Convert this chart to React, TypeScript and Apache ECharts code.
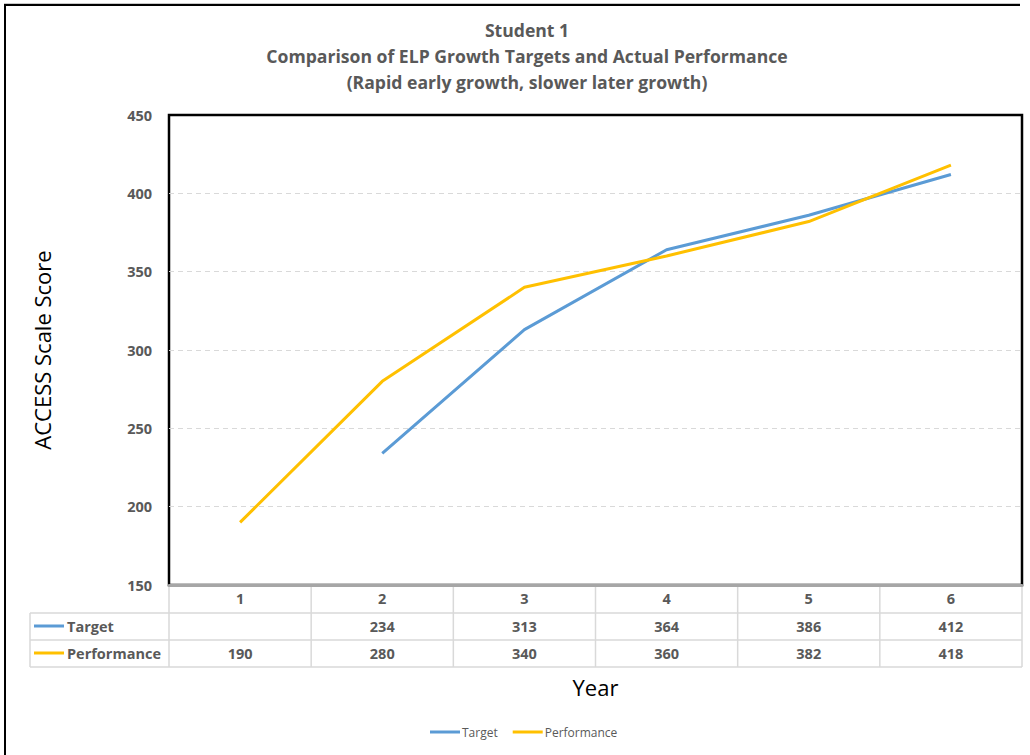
import React, { useEffect, useRef } from "react";
import * as echarts from "echarts";

const years = ["1", "2", "3", "4", "5", "6"];
const target: (number | null)[] = [null, 234, 313, 364, 386, 412];
const performance: number[] = [190, 280, 340, 360, 382, 418];
const seriesNames = ["Target", "Performance"];
const seriesColors = ["#5B9BD5", "#FFC000"];
const titleLines = [
  "Student 1",
  "Comparison of ELP Growth Targets and Actual Performance",
  "(Rapid early growth, slower later growth)",
];
const yMin = 150;
const yMax = 450;
const yStep = 50;

const FONT = "'Open Sans', 'Noto Sans', sans-serif";
const GRAY = "#595959";
const TXT = 14.5;

export default function App() {
  const ref = useRef<HTMLDivElement>(null);
  useEffect(() => {
    if (!ref.current) return;
    const chart = echarts.init(ref.current, null, { renderer: "svg" });
    const option: any = {
      animation: false,
      backgroundColor: "#fff",
      textStyle: { fontFamily: FONT },
      title: {
        text: titleLines.join("\n"),
        top: 12,
        left: 522,
        textAlign: "center",
        textStyle: {
          fontFamily: FONT,
          fontSize: 17.6,
          fontWeight: "bold",
          color: GRAY,
          lineHeight: 26,
        },
      },
      legend: {
        bottom: 12,
        left: 425,
        icon: "rect",
        itemWidth: 30,
        itemHeight: 3,
        itemGap: 15,
        textStyle: { fontFamily: FONT, fontSize: 12, color: GRAY, padding: [0, 0, 0, -3] },
        data: seriesNames,
      },
      grid: {
        left: 169,
        top: 115,
        right: 8,
        bottom: 170,
        show: true,
        borderColor: "#000",
        borderWidth: 2.5,
        containLabel: false,
      },
      xAxis: {
        type: "category",
        data: years,
        boundaryGap: true,
        name: "Year",
        nameLocation: "middle",
        nameGap: 91,
        nameTextStyle: { fontFamily: FONT, fontSize: 22, color: "#000" },
        axisLine: { show: true, lineStyle: { color: "#a6a6a6", width: 3 } },
        axisTick: { show: false },
        axisLabel: {
          show: true,
          margin: 6,
          fontFamily: FONT,
          fontSize: TXT,
          fontWeight: "bold",
          color: GRAY,
        },
        splitLine: { show: false },
      },
      yAxis: {
        type: "value",
        min: yMin,
        max: yMax,
        interval: yStep,
        name: "ACCESS Scale Score",
        nameLocation: "middle",
        nameGap: 116,
        nameRotate: 90,
        nameTextStyle: { fontFamily: FONT, fontSize: 22, color: "#000" },
        axisLine: { show: false },
        axisTick: { show: false },
        axisLabel: {
          margin: 17,
          fontFamily: FONT,
          fontSize: TXT,
          fontWeight: "bold",
          color: GRAY,
        },
        splitLine: {
          show: true,
          showMinLine: false,
          showMaxLine: false,
          lineStyle: { color: "#d9d9d9", type: [5, 4], width: 1 },
        },
      },
      series: [
        {
          name: seriesNames[0],
          type: "line",
          data: target,
          symbol: "none",
          connectNulls: false,
          lineStyle: { color: seriesColors[0], width: 3 },
          itemStyle: { color: seriesColors[0] },
          z: 3,
        },
        {
          name: seriesNames[1],
          type: "line",
          data: performance,
          symbol: "none",
          lineStyle: { color: seriesColors[1], width: 3 },
          itemStyle: { color: seriesColors[1] },
          z: 4,
        },
      ],
    };
    chart.setOption(option);

    // Build the data table under the plot, aligned with the category axis
    const xs = years.map((_, i) => chart.convertToPixel({ xAxisIndex: 0 }, i) as number);
    const half = (xs[1] - xs[0]) / 2;
    const bounds = [xs[0] - half, ...xs.map((x) => x + half)];
    const yBase = chart.convertToPixel({ yAxisIndex: 0 }, yMin) as number;
    const rowH = 27;
    const headerBottom = yBase + 1 + rowH;
    const tableLeft = 30;
    const tableRight = bounds[bounds.length - 1];
    const lineColor = "#d9d9d9";
    const g: any[] = [];
    for (let r = 0; r < 3; r++) {
      const y = headerBottom + r * rowH;
      g.push({
        type: "line",
        shape: { x1: tableLeft, y1: y, x2: tableRight, y2: y },
        style: { stroke: lineColor, lineWidth: 1.5 },
        silent: true,
      });
    }
    bounds.forEach((bx) => {
      g.push({
        type: "line",
        shape: { x1: bx, y1: yBase + 1, x2: bx, y2: headerBottom + 2 * rowH },
        style: { stroke: lineColor, lineWidth: 1.5 },
        silent: true,
      });
    });
    g.push({
      type: "line",
      shape: { x1: tableLeft, y1: headerBottom, x2: tableLeft, y2: headerBottom + 2 * rowH },
      style: { stroke: lineColor, lineWidth: 1.5 },
      silent: true,
    });
    const rows = [target, performance];
    rows.forEach((vals, r) => {
      const cy = headerBottom + r * rowH + rowH / 2 - 0.5;
      g.push({
        type: "line",
        shape: { x1: 34, y1: cy, x2: 64, y2: cy },
        style: { stroke: seriesColors[r], lineWidth: 3 },
        silent: true,
      });
      g.push({
        type: "text",
        x: 67,
        y: cy,
        style: {
          text: seriesNames[r],
          fontFamily: FONT,
          fontSize: TXT,
          fontWeight: "bold",
          fill: GRAY,
          align: "left",
          verticalAlign: "middle",
        },
        silent: true,
      });
      vals.forEach((v, i) => {
        if (v === null || v === undefined) return;
        g.push({
          type: "text",
          x: xs[i],
          y: cy,
          style: {
            text: String(v),
            fontFamily: FONT,
            fontSize: TXT,
            fontWeight: "bold",
            fill: GRAY,
            align: "center",
            verticalAlign: "middle",
          },
          silent: true,
        });
      });
    });
    // outer chart border (left and top)
    g.push({
      type: "line",
      shape: { x1: 4, y1: 3.5, x2: 1020, y2: 3.5 },
      style: { stroke: "#c8c8c8", lineWidth: 1 },
      silent: true,
    });
    g.push({
      type: "line",
      shape: { x1: 4, y1: 5, x2: 1020, y2: 5 },
      style: { stroke: "#000", lineWidth: 2 },
      silent: true,
    });
    g.push({
      type: "line",
      shape: { x1: 5, y1: 4, x2: 5, y2: 755 },
      style: { stroke: "#000", lineWidth: 2 },
      silent: true,
    });
    chart.setOption({ graphic: g });

    return () => chart.dispose();
  }, []);
  return (
    <div
      ref={ref}
      style={{ position: "fixed", left: 0, top: 0, width: 1030, height: 755 }}
    />
  );
}
